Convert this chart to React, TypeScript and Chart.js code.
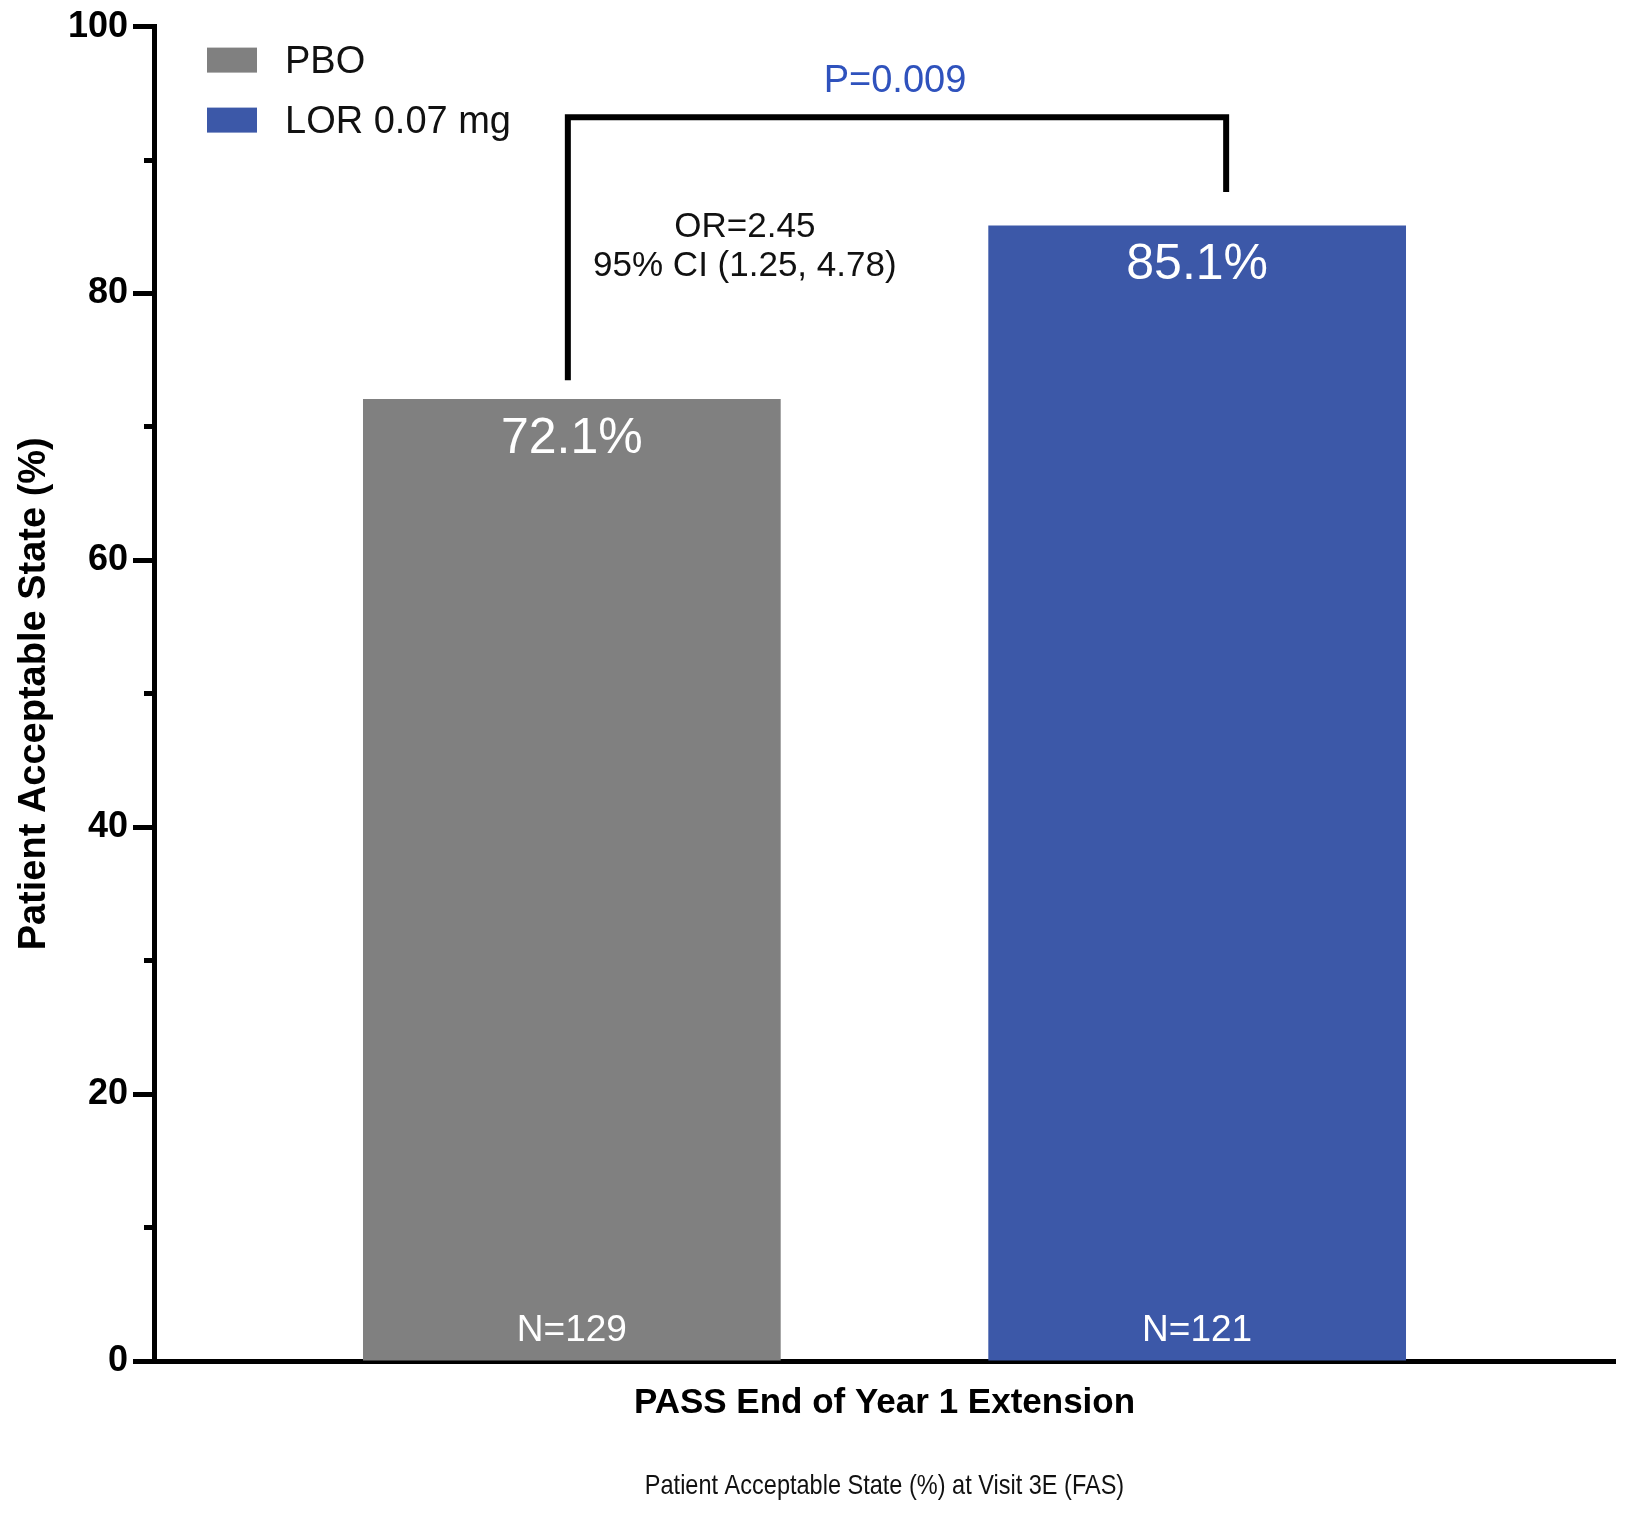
import React, { useEffect, useRef } from "react";
import { Chart, registerables } from "chart.js";

Chart.register(...registerables);

const categories = ["PASS End of Year 1 Extension"];
const seriesNames = ["PBO", "LOR 0.07 mg"];
const pboValues = [72.1];
const lorValues = [85.1];
const sampleSizes = ["N=129", "N=121"];
const valueLabels = ["72.1%", "85.1%"];
const pValueText = "P=0.009";
const oddsRatioText = ["OR=2.45", "95% CI (1.25, 4.78)"];
const bracketLevels = { top: 93.2, leftBottom: 73.5, rightBottom: 87.6 };
const yMajorStep = 20;
const yMinorStep = 10;
const yTitle = "Patient Acceptable State (%)";
const xTitle = "Patient Acceptable State (%) at Visit 3E (FAS)";

const FONT = "'Liberation Sans', Arial, Helvetica, sans-serif";
const GRAY = "#808080";
const BLUE = "#3c58a8";
const P_BLUE = "#2f52bd";

const annotationPlugin = {
  id: "annotations",
  afterDatasetsDraw(chart: any) {
    const ctx = chart.ctx;
    const y = chart.scales.y;
    const bars = chart.data.datasets.map((_: any, i: number) => chart.getDatasetMeta(i).data[0]);
    ctx.save();
    ctx.fillStyle = "#ffffff";
    ctx.textAlign = "center";
    ctx.textBaseline = "middle";
    bars.forEach((bar: any, i: number) => {
      ctx.font = `50px ${FONT}`;
      ctx.fillText(valueLabels[i], bar.x, bar.y + 40);
      ctx.font = `37px ${FONT}`;
      ctx.fillText(sampleSizes[i], bar.x, y.bottom - 30);
    });
    const lx = bars[0].x - 4;
    const rx = bars[1].x + 29;
    const ty = y.getPixelForValue(bracketLevels.top);
    ctx.strokeStyle = "#000";
    ctx.lineWidth = 6;
    ctx.lineJoin = "miter";
    ctx.lineCap = "butt";
    ctx.beginPath();
    ctx.moveTo(lx, y.getPixelForValue(bracketLevels.leftBottom));
    ctx.lineTo(lx, ty);
    ctx.lineTo(rx, ty);
    ctx.lineTo(rx, y.getPixelForValue(bracketLevels.rightBottom));
    ctx.stroke();
    ctx.fillStyle = P_BLUE;
    ctx.font = `38px ${FONT}`;
    ctx.fillText(pValueText, (lx + rx) / 2 - 2, ty - 36);
    ctx.fillStyle = "#111";
    ctx.font = `35px ${FONT}`;
    oddsRatioText.forEach((t, i) => {
      ctx.fillText(t, lx + 177, ty + 110 + i * 39);
    });
    ctx.restore();
  },
  afterDraw(chart: any) {
    const ctx = chart.ctx;
    const area = chart.chartArea;
    ctx.save();
    chart.data.datasets.forEach((ds: any, i: number) => {
      const bx = area.left + 53;
      const by = area.top + 21 + i * 60;
      ctx.fillStyle = ds.backgroundColor;
      ctx.fillRect(bx, by, 50, 25);
      ctx.fillStyle = "#111";
      ctx.font = `38px ${FONT}`;
      ctx.textAlign = "left";
      ctx.textBaseline = "middle";
      ctx.fillText(ds.label, bx + 78, by + 15);
    });
    // x-axis subtitle in a condensed face (horizontal compression)
    const xs = chart.scales.x;
    const cx = (xs.left + xs.right) / 2;
    ctx.translate(cx, 1486);
    ctx.scale(0.84, 1);
    ctx.fillStyle = "#111";
    ctx.font = `28px ${FONT}`;
    ctx.textAlign = "center";
    ctx.textBaseline = "middle";
    ctx.fillText(xTitle, 0, 0);
    ctx.restore();
  },
};

export default function App() {
  const canvasRef = useRef<HTMLCanvasElement | null>(null);

  useEffect(() => {
    document.body.style.margin = "0";
    const canvas = canvasRef.current;
    if (!canvas) return;
    Chart.defaults.font.family = FONT;
    const chart = new Chart(canvas, {
      type: "bar",
      data: {
        labels: categories,
        datasets: [
          {
            label: seriesNames[0],
            data: pboValues,
            backgroundColor: GRAY,
            yAxisID: "y",
            categoryPercentage: 0.856,
            barPercentage: 0.668,
          },
          {
            label: seriesNames[1],
            data: lorValues,
            backgroundColor: BLUE,
            yAxisID: "y",
            categoryPercentage: 0.856,
            barPercentage: 0.668,
          },
        ],
      },
      options: {
        animation: false,
        responsive: false,
        devicePixelRatio: 1,
        layout: { padding: { top: 26, right: 10, left: 0, bottom: 0 } },
        plugins: {
          legend: { display: false },
          tooltip: { enabled: false },
        },
        scales: {
          x: {
            type: "category",
            z: 1,
            grid: { display: false, drawTicks: false },
            border: { display: true, width: 5, color: "#000" },
            ticks: {
              color: "#000",
              font: { size: 35, weight: "bold", family: FONT },
              padding: 21,
            },
            title: { display: false, text: xTitle },
            afterFit(scale: any) {
              scale.height = 153;
            },
          },
          y: {
            type: "linear",
            position: "left",
            weight: 1,
            z: 1,
            min: 0,
            max: 100,
            ticks: {
              stepSize: yMajorStep,
              color: "#000",
              font: { size: 36, weight: "bold", family: FONT },
              padding: 5,
            },
            grid: {
              drawOnChartArea: false,
              drawTicks: true,
              tickLength: 21,
              tickWidth: 5,
              tickColor: "#000",
              color: "#000",
            },
            border: { display: true, width: 5, color: "#000" },
            title: {
              display: true,
              text: yTitle,
              color: "#000",
              font: { size: 38, weight: "bold", family: FONT },
              padding: { top: 12, bottom: 0 },
            },
            afterFit(scale: any) {
              scale.width = 154;
            },
          },
          yMinor: {
            type: "linear",
            position: "left",
            weight: 0,
            z: 1,
            min: 0,
            max: 100,
            ticks: { stepSize: yMinorStep, display: false },
            grid: {
              drawOnChartArea: false,
              drawTicks: true,
              tickLength: 10,
              tickWidth: 5,
              tickColor: "#000",
              color: "#000",
            },
            border: { display: false },
            afterFit(scale: any) {
              scale.width = 0;
            },
          },
        },
      } as any,
      plugins: [annotationPlugin],
    });
    return () => chart.destroy();
  }, []);

  return (
    <div style={{ width: 1625, height: 1514, background: "#fff" }}>
      <canvas ref={canvasRef} width={1625} height={1514} style={{ display: "block" }} />
    </div>
  );
}
